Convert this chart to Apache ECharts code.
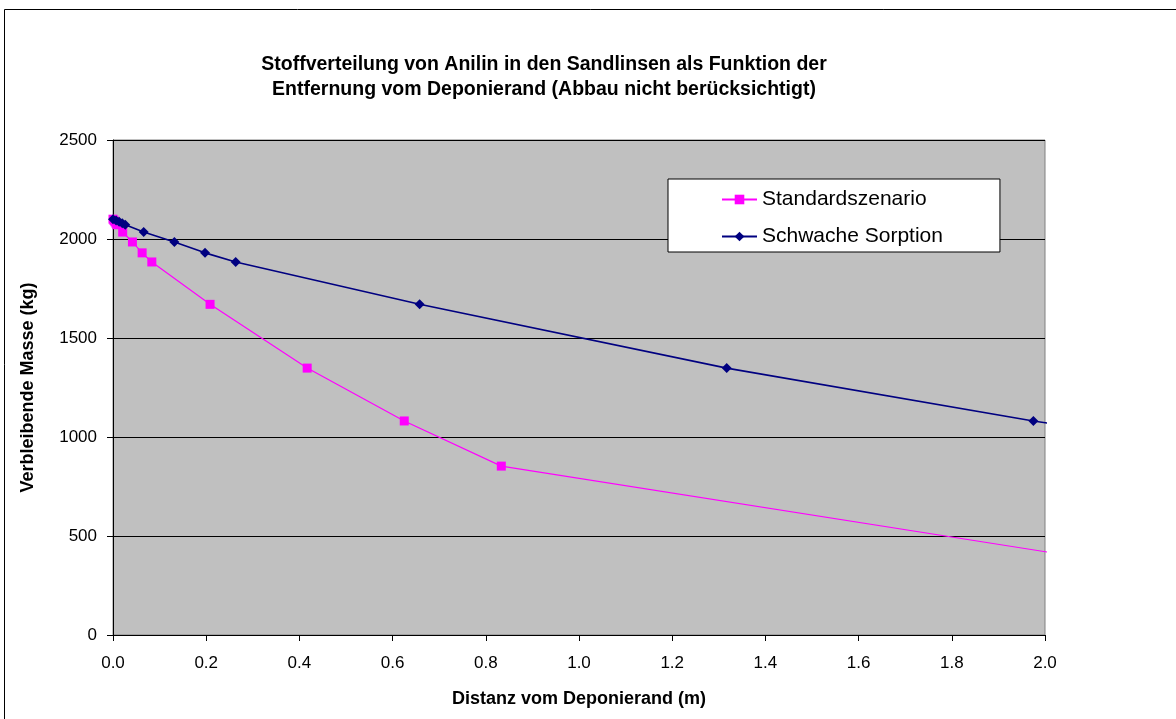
<!DOCTYPE html>
<html><head><meta charset="utf-8">
<script src="https://cdn.jsdelivr.net/npm/echarts@6/dist/echarts.min.js"></script>
<style>html,body{margin:0;padding:0;background:#fff}#c{width:1176px;height:719px}</style>
</head><body><div id="c"></div>
<script>
const titleText = 'Stoffverteilung von Anilin in den Sandlinsen als Funktion der\nEntfernung vom Deponierand (Abbau nicht berücksichtigt)';
const xAxisName = 'Distanz vom Deponierand (m)';
const yAxisName = 'Verbleibende Masse (kg)';
const seriesNames = ['Standardszenario', 'Schwache Sorption'];
const standardX = [0, 0.0021, 0.0042, 0.0063, 0.0083, 0.0208, 0.0417, 0.0625, 0.0833, 0.2083, 0.4167, 0.625, 0.8333, 2.0833];
const standardY = [2100, 2094, 2087, 2080, 2072, 2035, 1985, 1930, 1884, 1670, 1348, 1081, 853, 390];
const schwachX = [0, 0.0066, 0.0132, 0.0198, 0.0263, 0.0658, 0.1317, 0.1975, 0.2633, 0.658, 1.317, 1.975, 2.633, 6.58];
const schwachY = [2100, 2094, 2087, 2080, 2072, 2035, 1985, 1930, 1884, 1670, 1348, 1081, 853, 390];
const xTicks = {min: 0, max: 2, interval: 0.2};
const yTicks = {min: 0, max: 2500, interval: 500};

const pairs = (xs, ys) => xs.map((x, i) => [x, ys[i]]);
const chart = echarts.init(document.getElementById('c'), null, {renderer: 'canvas'});
const font = '"Liberation Sans", Arial, sans-serif';
chart.setOption({
  animation: false,
  textStyle: {fontFamily: font},
  title: {
    text: titleText, left: 539, top: 47, textAlign: 'center',
    textStyle: {fontSize: 19.5, fontWeight: 'bold', color: '#000', lineHeight: 25, fontFamily: font}
  },
  graphic: [{type: 'rect', shape: {x: 4.5, y: 9.5, width: 1180, height: 720}, style: {fill: null, stroke: '#000', lineWidth: 1}, silent: true, z: -10}],
  grid: {left: 113, right: 131, top: 140, bottom: 84, show: true, backgroundColor: '#c0c0c0', borderColor: '#808080', borderWidth: 1},
  legend: {
    orient: 'vertical', left: 668, top: 179,
    padding: [10, 57, 5, 53], itemGap: 16, itemWidth: 35, itemHeight: 12,
    backgroundColor: '#fff', borderColor: '#000', borderWidth: 1,
    textStyle: {fontSize: 21, color: '#000', fontFamily: font},
    data: seriesNames
  },
  xAxis: {
    type: 'value', min: xTicks.min, max: xTicks.max, interval: xTicks.interval,
    name: xAxisName, nameLocation: 'middle', nameGap: 55,
    nameTextStyle: {fontSize: 18, fontWeight: 'bold', color: '#000', fontFamily: font},
    axisLine: {show: true, onZero: false, lineStyle: {color: '#000'}},
    axisTick: {show: true, length: 6, lineStyle: {color: '#000'}},
    axisLabel: {fontSize: 17, color: '#000', margin: 20, formatter: v => v.toFixed(1), fontFamily: font},
    splitLine: {show: false}
  },
  yAxis: {
    type: 'value', min: yTicks.min, max: yTicks.max, interval: yTicks.interval,
    name: yAxisName, nameLocation: 'middle', nameGap: 76, nameRotate: 90,
    nameTextStyle: {fontSize: 18, fontWeight: 'bold', color: '#000', fontFamily: font},
    axisLine: {show: true, lineStyle: {color: '#000'}},
    axisTick: {show: true, length: 6, lineStyle: {color: '#000'}},
    axisLabel: {fontSize: 17, color: '#000', margin: 16, formatter: v => String(v), fontFamily: font},
    splitLine: {show: true, lineStyle: {color: '#000', width: 1}}
  },
  series: [
    {name: seriesNames[0], type: 'line', data: pairs(standardX, standardY),
     symbol: 'rect', symbolSize: 9, color: '#ff00ff',
     lineStyle: {color: '#ff00ff', width: 1.2}, itemStyle: {color: '#ff00ff'}, clip: true, z: 3},
    {name: seriesNames[1], type: 'line', data: pairs(schwachX, schwachY),
     symbol: 'diamond', symbolSize: 10, color: '#000080',
     lineStyle: {color: '#000080', width: 1.6}, itemStyle: {color: '#000080'}, clip: true, z: 4}
  ]
});
</script></body></html>
